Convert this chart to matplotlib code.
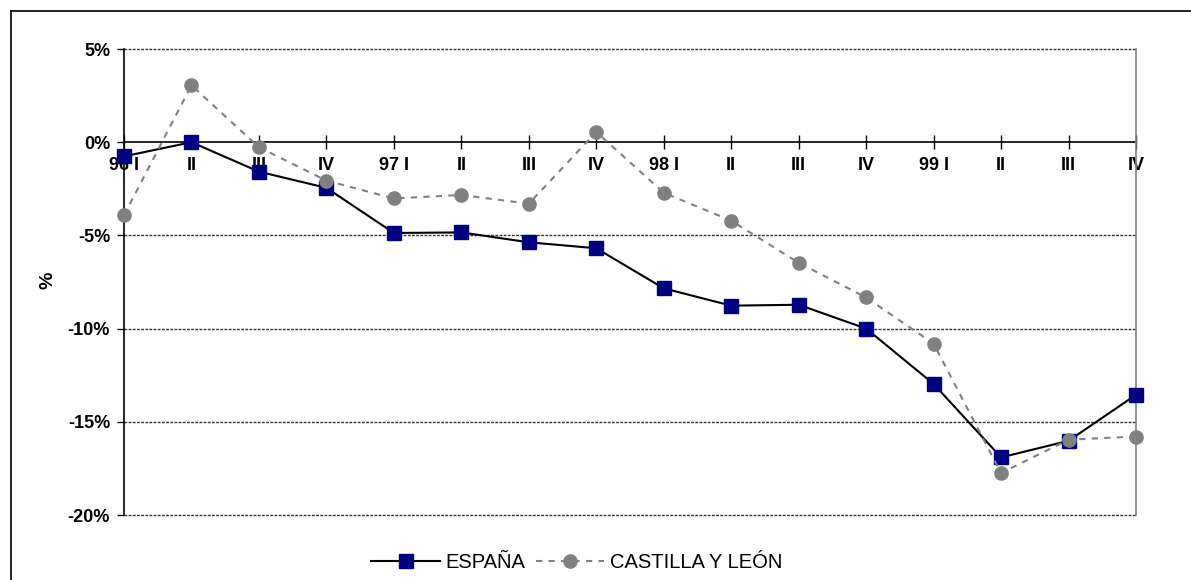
import matplotlib
matplotlib.use("Agg")
import matplotlib.pyplot as plt
from matplotlib.lines import Line2D
from matplotlib.ticker import FuncFormatter, FixedLocator

plt.rcParams['font.family'] = ['Liberation Sans', 'DejaVu Sans']

categories = ["96 I", "II", "III", "IV", "97 I", "II", "III", "IV",
              "98 I", "II", "III", "IV", "99 I", "II", "III", "IV"]
espana = [-0.76, 0.0, -1.58, -2.45, -4.87, -4.84, -5.37, -5.69,
          -7.84, -8.77, -8.72, -10.0, -12.97, -16.91, -16.02, -13.55]
castilla = [-3.92, 3.05, -0.27, -2.06, -3.02, -2.83, -3.30, 0.55,
            -2.71, -4.21, -6.47, -8.33, -10.81, -17.75, -15.96, -15.79]
yticks = [5, 0, -5, -10, -15, -20]

W, H = 1191, 580
fig = plt.figure(figsize=(W / 100, H / 100), dpi=100)
ax = fig.add_axes([124 / W, 1 - 515 / H, (1136 - 124) / W, (515 - 49) / H])

x = list(range(len(categories)))
ax.set_xlim(0, len(categories) - 1)
ax.set_ylim(-20, 5)

# gridlines (dashed) incl. top and bottom borders
for v in yticks:
    if v != 0:
        ax.axhline(v, color='#303030', lw=1.0, ls=(0, (2, 1)), zorder=1, clip_on=False)

ax.plot(x, espana, color='black', lw=1.5, marker='s', markersize=9.5,
        markerfacecolor='#000080', markeredgecolor='#000080', zorder=3,
        clip_on=False, label='ESPAÑA')
ax.plot(x, castilla, color='#808080', lw=1.5, ls=(0, (3, 3)), marker='o',
        markersize=9.5, markerfacecolor='#808080', markeredgecolor='#808080',
        zorder=4, clip_on=False, label='CASTILLA Y LEÓN')

# spines
ax.spines['top'].set_visible(False)
ax.spines['right'].set_color('#808080')
ax.spines['right'].set_linewidth(1.2)
ax.spines['left'].set_color('black')
ax.spines['left'].set_linewidth(1.2)
ax.spines['bottom'].set_position(('data', 0))
ax.spines['bottom'].set_color('black')
ax.spines['bottom'].set_linewidth(1.2)
ax.spines['bottom'].set_zorder(2)

ax.xaxis.set_major_locator(FixedLocator(x))
ax.set_xticklabels(categories, fontsize=13, fontweight='bold')
ax.tick_params(axis='x', direction='inout', length=10, width=1, pad=6,
               color='black')

ax.yaxis.set_major_locator(FixedLocator(yticks))
ax.yaxis.set_major_formatter(FuncFormatter(lambda v, p: f"{int(v)}%"))
ax.tick_params(axis='y', direction='out', length=5, width=1, pad=5,
               labelsize=13)
for lab in ax.get_yticklabels():
    lab.set_fontweight('bold')

ax.set_ylabel('%', fontsize=14, fontweight='bold', labelpad=0)
ax.yaxis.set_label_coords((57 - 124) / (1136 - 124), (515 - 280) / (515 - 49))

fig.legend(loc='center', bbox_to_anchor=(577 / W, 1 - 563 / H), ncol=2,
           frameon=False, fontsize=14.5, handlelength=3.4, handletextpad=0.3,
           columnspacing=0.5, markerscale=1.0)

# outer frame (top and left visible)
fig.add_artist(Line2D([11 / W, 11 / W], [0, 1 - 11 / H], color='black', lw=1.2,
                      transform=fig.transFigure))
fig.add_artist(Line2D([11 / W, 1], [1 - 11 / H, 1 - 11 / H], color='black', lw=1.2,
                      transform=fig.transFigure))

fig.savefig('out.png', dpi=100)
